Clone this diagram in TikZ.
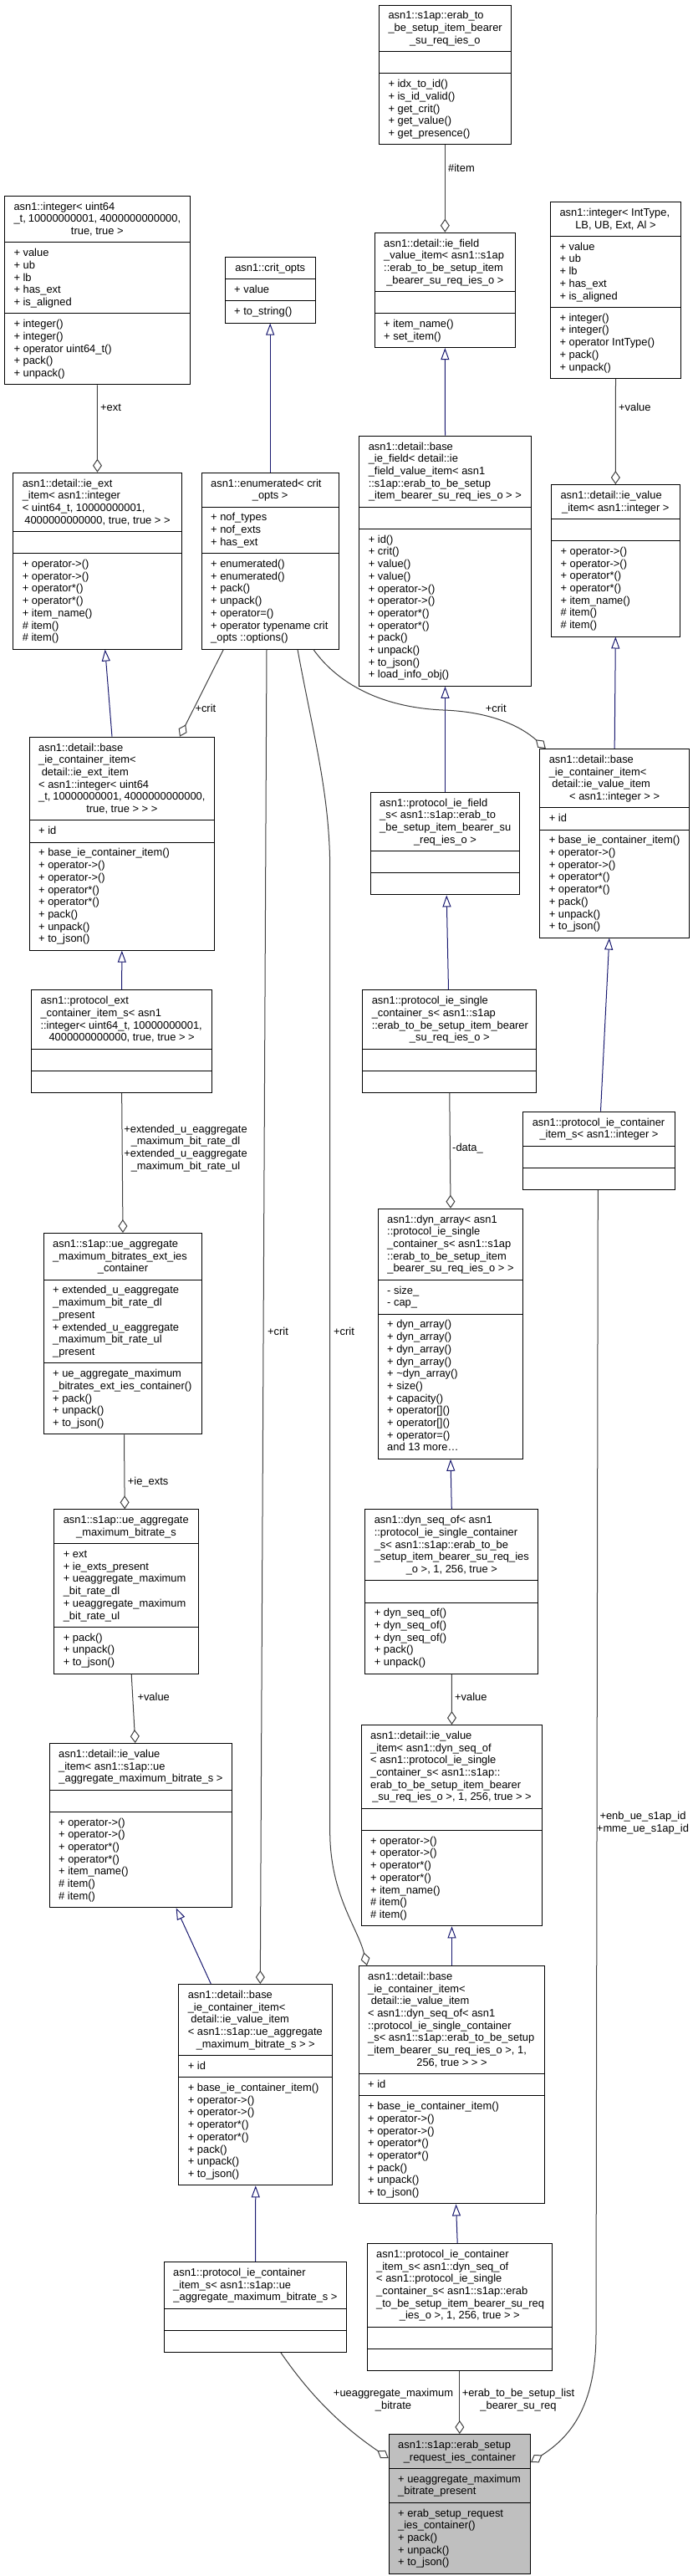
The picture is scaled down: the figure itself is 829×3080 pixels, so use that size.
\documentclass[tikz,border=0pt]{standalone}
\usepackage{fontspec}
\setmainfont{Liberation Sans}
\usetikzlibrary{shapes.multipart,arrows.meta}
\definecolor{edgegray}{HTML}{404040}
\definecolor{inhblue}{HTML}{191970}
\definecolor{maingray}{HTML}{BFBFBF}
\newcommand{\ustr}{\rule[-3.65pt]{0pt}{14.7pt}}
\newcommand{\lft}[1]{\hbox to \hsize{\ustr#1\hfil}}
\newcommand{\ctr}[1]{\hbox to \hsize{\hfil\ustr#1\hfil}}
\newcommand{\sect}[2]{\vbox{\hsize=#1pt\baselineskip=14.7pt\lineskip=0pt\lineskiplimit=-1000pt #2}}
\newcommand{\uml}[8][white]{%
  \node[cls, fill=#1] (#2) at (#3,#4) {\sect{#5}{#6}\nodepart{second}\sect{#5}{#7}\nodepart{third}\sect{#5}{#8}};}
\newcommand{\opsvi}{\lft{+ operator->()}\lft{+ operator->()}\lft{+ operator*()}\lft{+ operator*()}\lft{+ item\_name()}\lft{\# item()}\lft{\# item()}}
\newcommand{\opsbc}{\lft{+ base\_ie\_container\_item()}\lft{+ operator->()}\lft{+ operator->()}\lft{+ operator*()}\lft{+ operator*()}\lft{+ pack()}\lft{+ unpack()}\lft{+ to\_json()}}
\newcommand{\intattr}{\lft{+ value}\lft{+ ub}\lft{+ lb}\lft{+ has\_ext}\lft{+ is\_aligned}}
\tikzset{
  cls/.style={rectangle split, rectangle split parts=3, draw=black, line width=1pt,
    inner xsep=11pt, inner ysep=5.25pt, anchor=north west,
    font=\fontsize{12.9}{14.7}\selectfont},
  agg/.style={draw=edgegray, line width=1pt, -{Diamond[open, length=16pt, width=11pt]}},
  inh/.style={draw=inhblue, line width=1pt, -{Triangle[open, length=14pt, width=10pt]}},
  lbl/.style={font=\fontsize{12.9}{14.7}\selectfont, inner sep=0pt, align=center}
}
\begin{document}
\begin{tikzpicture}[x=1pt,y=-1pt]
\useasboundingbox[fill=white] (0,0) rectangle (829,3080);

% ---- classes ----
\uml{ieso}{453}{5.7}{135.7}
 {\lft{asn1::s1ap::erab\_to}\lft{\_be\_setup\_item\_bearer}\ctr{\_su\_req\_ies\_o}}
 {\lft{}}
 {\lft{+ idx\_to\_id()}\lft{+ is\_id\_valid()}\lft{+ get\_crit()}\lft{+ get\_value()}\lft{+ get\_presence()}}

\uml{intu}{5}{233.7}{199.7}
 {\lft{asn1::integer< uint64}\lft{\_t, 10000000001, 4000000000000,}\ctr{true, true >}}
 {\intattr}
 {\lft{+ integer()}\lft{+ integer()}\lft{+ operator uint64\_t()}\lft{+ pack()}\lft{+ unpack()}}

\uml{crit}{268.7}{307}{86}
 {\ctr{asn1::crit\_opts}}
 {\lft{+ value}}
 {\lft{+ to\_string()}}

\uml{fvi}{447.7}{277.7}{146.3}
 {\lft{asn1::detail::ie\_field}\lft{\_value\_item< asn1::s1ap}\lft{::erab\_to\_be\_setup\_item}\ctr{\_bearer\_su\_req\_ies\_o >}}
 {\lft{}}
 {\lft{+ item\_name()}\lft{+ set\_item()}}

\uml{intt}{658}{241}{134}
 {\lft{asn1::integer< IntType,}\ctr{LB, UB, Ext, Al >}}
 {\intattr}
 {\lft{+ integer()}\lft{+ integer()}\lft{+ operator IntType()}\lft{+ pack()}\lft{+ unpack()}}

\uml{extitem}{15.3}{564.7}{179.4}
 {\lft{asn1::detail::ie\_ext}\lft{\_item< asn1::integer}\lft{< uint64\_t, 10000000001,}\ctr{4000000000000, true, true > >}}
 {\lft{}}
 {\opsvi}

\uml{enum}{240.7}{564.7}{142}
 {\lft{asn1::enumerated< crit}\ctr{\_opts >}}
 {\lft{+ nof\_types}\lft{+ nof\_exts}\lft{+ has\_ext}}
 {\lft{+ enumerated()}\lft{+ enumerated()}\lft{+ pack()}\lft{+ unpack()}\lft{+ operator=()}\lft{+ operator typename crit}\lft{\_opts ::options()}}

\uml{bfield}{429.3}{520.7}{183.4}
 {\lft{asn1::detail::base}\lft{\_ie\_field< detail::ie}\lft{\_field\_value\_item< asn1}\lft{::s1ap::erab\_to\_be\_setup}\ctr{\_item\_bearer\_su\_req\_ies\_o > >}}
 {\lft{}}
 {\lft{+ id()}\lft{+ crit()}\lft{+ value()}\lft{+ value()}\lft{+ operator->()}\lft{+ operator->()}\lft{+ operator*()}\lft{+ operator*()}\lft{+ pack()}\lft{+ unpack()}\lft{+ to\_json()}\lft{+ load\_info\_obj()}}

\uml{vint}{659}{579}{131.7}
 {\lft{asn1::detail::ie\_value}\ctr{\_item< asn1::integer >}}
 {\lft{}}
 {\opsvi}

\uml{bcext}{34.7}{880.7}{199.3}
 {\lft{asn1::detail::base}\lft{\_ie\_container\_item<}\lft{\ detail::ie\_ext\_item}\lft{< asn1::integer< uint64}\lft{\_t, 10000000001, 4000000000000,}\ctr{true, true > > >}}
 {\lft{+ id}}
 {\opsbc}

\uml{pfield}{442.7}{946.7}{156.6}
 {\lft{asn1::protocol\_ie\_field}\lft{\_s< asn1::s1ap::erab\_to}\lft{\_be\_setup\_item\_bearer\_su}\ctr{\_req\_ies\_o >}}
 {\lft{}}
 {\lft{}}

\uml{bcint}{645.3}{895}{156.7}
 {\lft{asn1::detail::base}\lft{\_ie\_container\_item<}\lft{\ detail::ie\_value\_item}\ctr{< asn1::integer > >}}
 {\lft{+ id}}
 {\opsbc}

\uml{pext}{37}{1183.3}{194.3}
 {\lft{asn1::protocol\_ext}\lft{\_container\_item\_s< asn1}\lft{::integer< uint64\_t, 10000000001,}\ctr{4000000000000, true, true > >}}
 {\lft{}}
 {\lft{}}

\uml{psingle}{433.3}{1183.3}{186}
 {\lft{asn1::protocol\_ie\_single}\lft{\_container\_s< asn1::s1ap}\lft{::erab\_to\_be\_setup\_item\_bearer}\ctr{\_su\_req\_ies\_o >}}
 {\lft{}}
 {\lft{}}

\uml{pcint}{625.3}{1328.7}{159.4}
 {\lft{asn1::protocol\_ie\_container}\ctr{\_item\_s< asn1::integer >}}
 {\lft{}}
 {\lft{}}

\uml{extcont}{51.7}{1474}{167.6}
 {\lft{asn1::s1ap::ue\_aggregate}\lft{\_maximum\_bitrates\_ext\_ies}\ctr{\_container}}
 {\lft{+ extended\_u\_eaggregate}\lft{\_maximum\_bit\_rate\_dl}\lft{\_present}\lft{+ extended\_u\_eaggregate}\lft{\_maximum\_bit\_rate\_ul}\lft{\_present}}
 {\lft{+ ue\_aggregate\_maximum}\lft{\_bitrates\_ext\_ies\_container()}\lft{+ pack()}\lft{+ unpack()}\lft{+ to\_json()}}

\uml{dynarr}{451.7}{1444.7}{151.6}
 {\lft{asn1::dyn\_array< asn1}\lft{::protocol\_ie\_single}\lft{\_container\_s< asn1::s1ap}\lft{::erab\_to\_be\_setup\_item}\ctr{\_bearer\_su\_req\_ies\_o > >}}
 {\lft{- size\_}\lft{- cap\_}}
 {\lft{+ dyn\_array()}\lft{+ dyn\_array()}\lft{+ dyn\_array()}\lft{+ dyn\_array()}\lft{+ \textasciitilde dyn\_array()}\lft{+ size()}\lft{+ capacity()}\lft{+ operator[]()}\lft{+ operator[]()}\lft{+ operator=()}\lft{and 13 more\ldots}}

\uml{uamb}{64.3}{1804.3}{150.4}
 {\lft{asn1::s1ap::ue\_aggregate}\ctr{\_maximum\_bitrate\_s}}
 {\lft{+ ext}\lft{+ ie\_exts\_present}\lft{+ ueaggregate\_maximum}\lft{\_bit\_rate\_dl}\lft{+ ueaggregate\_maximum}\lft{\_bit\_rate\_ul}}
 {\lft{+ pack()}\lft{+ unpack()}\lft{+ to\_json()}}

\uml{dynseq}{436.3}{1804.3}{185}
 {\lft{asn1::dyn\_seq\_of< asn1}\lft{::protocol\_ie\_single\_container}\lft{\_s< asn1::s1ap::erab\_to\_be}\lft{\_setup\_item\_bearer\_su\_req\_ies}\ctr{\_o >, 1, 256, true >}}
 {\lft{}}
 {\lft{+ dyn\_seq\_of()}\lft{+ dyn\_seq\_of()}\lft{+ dyn\_seq\_of()}\lft{+ pack()}\lft{+ unpack()}}

\uml{vuamb}{58.7}{2084}{196.6}
 {\lft{asn1::detail::ie\_value}\lft{\_item< asn1::s1ap::ue}\ctr{\_aggregate\_maximum\_bitrate\_s >}}
 {\lft{}}
 {\opsvi}

\uml{vdyn}{431.7}{2062}{194.6}
 {\lft{asn1::detail::ie\_value}\lft{\_item< asn1::dyn\_seq\_of}\lft{< asn1::protocol\_ie\_single}\lft{\_container\_s< asn1::s1ap::}\lft{erab\_to\_be\_setup\_item\_bearer}\ctr{\_su\_req\_ies\_o >, 1, 256, true > >}}
 {\lft{}}
 {\opsvi}

\uml{bcuamb}{213.3}{2372}{162}
 {\lft{asn1::detail::base}\lft{\_ie\_container\_item<}\lft{\ detail::ie\_value\_item}\lft{< asn1::s1ap::ue\_aggregate}\ctr{\_maximum\_bitrate\_s > >}}
 {\lft{+ id}}
 {\opsbc}

\uml{bcdyn}{428.7}{2350}{200.6}
 {\lft{asn1::detail::base}\lft{\_ie\_container\_item<}\lft{\ detail::ie\_value\_item}\lft{< asn1::dyn\_seq\_of< asn1}\lft{::protocol\_ie\_single\_container}\lft{\_s< asn1::s1ap::erab\_to\_be\_setup}\lft{\_item\_bearer\_su\_req\_ies\_o >, 1,}\ctr{256, true > > >}}
 {\lft{+ id}}
 {\opsbc}

\uml{pcuamb}{195.7}{2704}{196.6}
 {\lft{asn1::protocol\_ie\_container}\lft{\_item\_s< asn1::s1ap::ue}\ctr{\_aggregate\_maximum\_bitrate\_s >}}
 {\lft{}}
 {\lft{}}

\uml{pcdyn}{438.7}{2682}{199.3}
 {\lft{asn1::protocol\_ie\_container}\lft{\_item\_s< asn1::dyn\_seq\_of}\lft{< asn1::protocol\_ie\_single}\lft{\_container\_s< asn1::s1ap::erab}\lft{\_to\_be\_setup\_item\_bearer\_su\_req}\ctr{\_ies\_o >, 1, 256, true > >}}
 {\lft{}}
 {\lft{}}

\uml[maingray]{main}{464.7}{2910}{147.3}
 {\lft{asn1::s1ap::erab\_setup}\ctr{\_request\_ies\_container}}
 {\lft{+ ueaggregate\_maximum}\lft{\_bitrate\_present}}
 {\lft{+ erab\_setup\_request}\lft{\_ies\_container()}\lft{+ pack()}\lft{+ unpack()}\lft{+ to\_json()}}

% ---- inheritance ----
\draw[inh] (enum.north) -- (crit.south);
\draw[inh] (bfield.north) -- (fvi.south);
\draw[inh] ([xshift=99.3pt]bcext.north west) -- ([xshift=110.4pt]extitem.south west);
\draw[inh] (pfield.north) -- (bfield.south);
\draw[inh] (bcint.north) -- (vint.south);
\draw[inh] (pext.north) -- (bcext.south);
\draw[inh] ([xshift=-1.3pt]psingle.north) -- ([xshift=1.7pt]pfield.south);
\draw[inh] ([xshift=2pt]pcint.north) -- ([xshift=-6.3pt]bcint.south);
\draw[inh] (dynseq.north) -- (dynarr.south);
\draw[inh] ([xshift=39pt]bcuamb.north west) -- ([xshift=152pt]vuamb.south west);
\draw[inh] (bcdyn.north) -- (vdyn.south);
\draw[inh] (pcuamb.north) -- (bcuamb.south);
\draw[inh] ([xshift=-2.65pt]pcdyn.north) -- ([xshift=5pt]bcdyn.south);

% ---- aggregation ----
\draw[agg] (ieso.south) -- (fvi.north);
\draw[agg] (intu.south) -- (extitem.north);
\draw[agg] (intt.south) -- (vint.north);
\draw[agg] ([xshift=26.6pt]enum.south west) -- ([xshift=180.3pt]bcext.north west);
\draw[agg] ([xshift=134.3pt]enum.south west) .. controls (395,805) and (440,845) .. (530,849)
  .. controls (590,851) and (625,870) .. ([xshift=7.5pt]bcint.north west);
\draw[agg] ([xshift=78.3pt]enum.south west) -- ([xshift=98pt]bcuamb.north west);
\draw[agg] ([xshift=115.3pt]enum.south west) .. controls (375,880) and (394.7,950) .. (394.7,1040)
  -- (394.7,2190) .. controls (394.7,2265) and (428,2305) .. ([xshift=10.3pt]bcdyn.north west);
\draw[agg] (pext.south) -- (extcont.north);
\draw[agg] (psingle.south) -- (dynarr.north);
\draw[agg] ([xshift=90pt]pcint.south west) -- (713,2790) .. controls (713,2880) and (680,2915) .. ([yshift=-34pt]main.north east);
\draw[agg] ([xshift=1.5pt]extcont.south) -- ([xshift=-1.8pt]uamb.north);
\draw[agg] ([xshift=6.2pt]uamb.south) -- ([xshift=-6.7pt]vuamb.north);
\draw[agg] (dynseq.south) -- (vdyn.north);
\draw[agg] ([xshift=140.3pt]pcuamb.south west) .. controls (365,2855) and (400,2895) .. ([yshift=-29pt]main.north west);
\draw[agg] (pcdyn.south) -- (main.north);

% ---- labels ----
\node[lbl, anchor=west] (l1) at (536,200.7) {\#item};
\node[lbl, anchor=west] (l2) at (120,487.3) {+ext};
\node[lbl, anchor=west] (l3) at (740,487.3) {+value};
\node[lbl, anchor=west] (l4) at (233.3,847.3) {+crit};
\node[lbl, anchor=west] (l5) at (580.7,847.3) {+crit};
\node[lbl, anchor=west] (l6) at (320,1591.7) {+crit};
\node[lbl, anchor=west] (l7) at (399,1591.7) {+crit};
\node[lbl] (l8) at (222,1372.9) {+extended\_u\_eaggregate\\\_maximum\_bit\_rate\_dl\\+extended\_u\_eaggregate\\\_maximum\_bit\_rate\_ul};
\node[lbl, anchor=west] (l9) at (541,1372.7) {-data\_};
\node[lbl] (l10) at (769,2179.7) {+enb\_ue\_s1ap\_id\\+mme\_ue\_s1ap\_id};
\node[lbl, anchor=west] (l11) at (152.7,1771.7) {+ie\_exts};
\node[lbl, anchor=west] (l12) at (164.3,2028.7) {+value};
\node[lbl, anchor=west] (l13) at (544,2028.7) {+value};
\node[lbl] (l14) at (470.5,2869.7) {+ueaggregate\_maximum\\\_bitrate};
\node[lbl] (l15) at (620,2869.7) {+erab\_to\_be\_setup\_list\\\_bearer\_su\_req};
\end{tikzpicture}
\end{document}
